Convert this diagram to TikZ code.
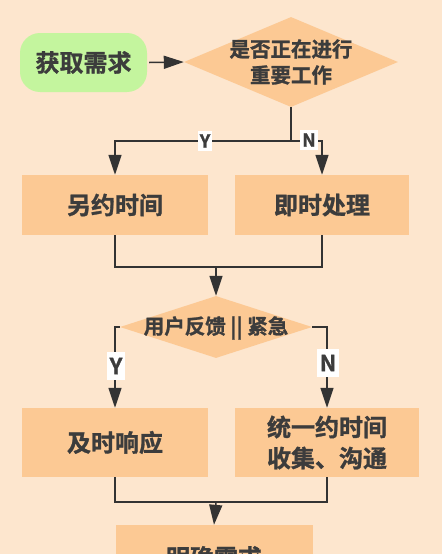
\documentclass[tikz,border=0pt]{standalone}
\usepackage{fontspec}
\setmainfont{Noto Sans CJK SC Bold}[FakeBold=1.2]
\usetikzlibrary{shapes.geometric,arrows.meta}
\definecolor{bg}{HTML}{FDE6CE}
\definecolor{boxc}{HTML}{FCC994}
\definecolor{greenc}{HTML}{C4F59E}
\definecolor{txt}{HTML}{3C3C3C}
\definecolor{lnc}{HTML}{333333}
\begin{document}
\begin{tikzpicture}[x=1pt,y=-1pt,
  boxnode/.style={fill=boxc, draw=none, inner sep=0pt, text=txt, align=center,
    font=\fontsize{24}{31}\selectfont},
  dia/.style={diamond, fill=boxc, draw=none, inner sep=0pt},
  diatext/.style={text=txt, align=center, inner sep=0pt, font=\fontsize{20.5}{26}\selectfont},
  conn/.style={draw=lnc, line width=1.5pt},
  arr/.style={conn, -{Triangle[width=13pt,length=20pt]}},
  ynA/.style={fill=white, text=txt, inner xsep=2pt, inner ysep=3pt, font=\fontsize{18}{20}\selectfont},
  ynB/.style={fill=white, text=txt, inner xsep=2.5pt, inner ysep=6pt, font=\fontsize{22}{24}\selectfont}
]
\fill[bg] (0,0) rectangle (442,554);
\useasboundingbox (0,0) rectangle (442,554);
\clip (0,0) rectangle (442,554);

% nodes
\node[boxnode, fill=greenc, rounded corners=20pt, minimum width=127pt, minimum height=59pt] (start) at (83.5,62.5) {获取需求};
\node[dia, minimum width=214pt, minimum height=90pt] (d1) at (291,62) {};
\node[diatext] (d1t) at (291,62) {是否正在进行\\重要工作};
\node[boxnode, minimum width=186pt, minimum height=60pt] (b1) at (115,205) {另约时间};
\node[boxnode, minimum width=174pt, minimum height=60pt] (b2) at (322,205) {即时处理};
\node[dia, minimum width=192pt, minimum height=62pt] (d2) at (216,327) {};
\node[diatext] (d2t) at (216,328) {用户反馈 || 紧急};
\node[boxnode, minimum width=186pt, minimum height=69pt] (b3) at (115,442.5) {及时响应};
\node[boxnode, minimum width=184pt, minimum height=69pt] (b4) at (327,442.5) {统一约时间\\收集、沟通};
\node[boxnode, minimum width=197pt, minimum height=65pt] (b5) at (214,557.5) {明确需求};

% connectors
\draw[arr] (start.east) ++(2,0) -- (d1.west);
\coordinate (j1) at (291,141);
\draw[conn] (d1.south) -- (j1);
\draw[arr] (j1) -| (b1.north);
\draw[arr] (j1) -| (b2.north);
\node[ynA] (y1) at (205,141) {Y};
\node[ynA] (n1) at (309,140) {N};

\coordinate (m1) at (216,267);
\draw[conn] (b1.south) |- (m1) -| (b2.south);
\draw[arr] (m1) -- (d2.north);

\draw[arr] (d2.west) -| (b3.north);
\draw[arr] (d2.east) -| (b4.north);
\node[ynB] (y2) at (116,366) {Y};
\node[ynB] (n2) at (328,363) {N};

\coordinate (m2) at (216,502);
\draw[conn] (b3.south) |- (m2) -| (b4.south);
\draw[arr] (m2) -- (b5.north);
\end{tikzpicture}
\end{document}
